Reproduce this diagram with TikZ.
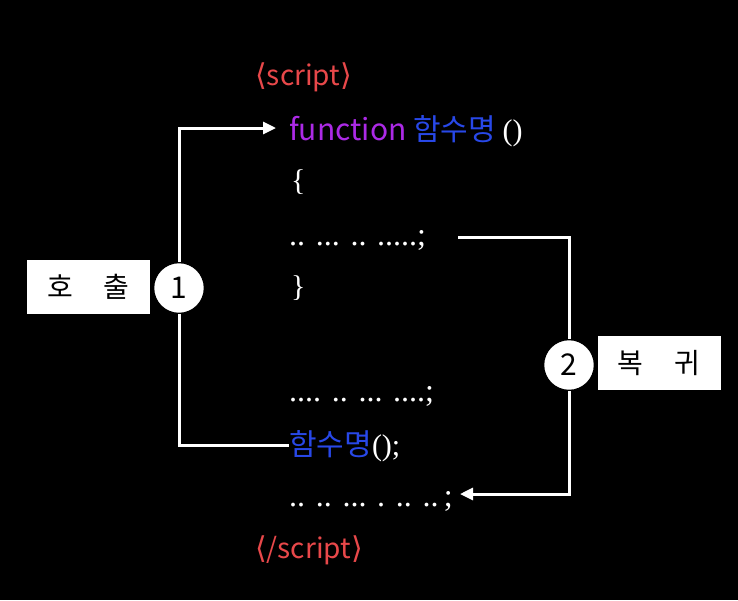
\documentclass[tikz,border=0pt]{standalone}
\usepackage{fontspec}
\usetikzlibrary{arrows.meta,positioning}
\setmainfont{Noto Sans CJK KR}
\newfontfamily\codeserif{Liberation Serif}
\newfontfamily\bracketfont{DejaVu Sans}
\definecolor{tagred}{RGB}{232,72,74}
\definecolor{kwpurple}{RGB}{172,42,230}
\definecolor{namblue}{RGB}{40,72,232}
\tikzset{
  link/.style={white,line width=3pt},
  jump/.style={link,-{Triangle[length=13pt,width=12pt]}},
  code/.style={anchor=base west,inner sep=0pt,text=white,font=\fontsize{30}{36}\selectfont\codeserif},
  dots/.style={code,font=\fontsize{32}{38}\selectfont\codeserif},
  tag/.style={code,text=tagred,font=\fontsize{28}{34}\selectfont},
  label/.style={fill=white,text=black,minimum width=123pt,minimum height=54pt,
                inner sep=0pt,font=\fontsize{28}{34}\selectfont},
  stepmark/.style={circle,fill=white,draw=black,line width=1.5pt,minimum size=51pt,
                   inner sep=0pt,text=black,font=\fontsize{30}{36}\selectfont},
}
\begin{document}
\begin{tikzpicture}[x=1pt,y=-1pt]
  \path[use as bounding box,fill=black] (0,0) rectangle (738,600);

  % script body
  \node[tag] (open) at (255,85) {{\bracketfont\fontsize{30}{36}\selectfont⟨}script{\bracketfont\fontsize{30}{36}\selectfont⟩}};
  \node[code,font=\fontsize{30}{36}\selectfont] (fn) at (289,140)
    {\textcolor{kwpurple}{function} \textcolor{namblue}{함수명} {\codeserif()}};
  \node[code] (lb) at (291,190) {\{};
  \node[dots] (d1) at (289,245) {.. ... .. .....;};
  \node[code] (rb) at (291,296) {\}};
  \node[dots] (d2) at (289,401) {.... .. ... ....;};
  \node[code,font=\fontsize{30}{36}\selectfont] (call) at (289,455)
    {\textcolor{namblue}{함수명}{\codeserif();}};
  \node[dots] (d3) at (289,506) {.. .. ... . .. ..\,;};
  \node[tag] (close) at (255,558) {{\bracketfont\fontsize{30}{36}\selectfont⟨}/script{\bracketfont\fontsize{30}{36}\selectfont⟩}};

  % call and return marks
  \node[stepmark] (c1) at (179,288) {1};
  \node[label] (call lab) at (88.5,287) {호\hspace{1.1em}출};
  \node[stepmark] (c2) at (569,365) {2};
  \node[label] (ret lab) at (659,363) {복\hspace{1.1em}귀};

  \coordinate (fn in) at (276,128);
  \coordinate (ret out) at (458,237);
  \coordinate (ret in) at (460,494);

  \draw[jump] (c1.north) |- (fn in);
  \draw[link] (c1.south) |- (call.west);
  \draw[link] (ret out) -| (c2.north);
  \draw[jump] (c2.south) |- (ret in);
\end{tikzpicture}
\end{document}
